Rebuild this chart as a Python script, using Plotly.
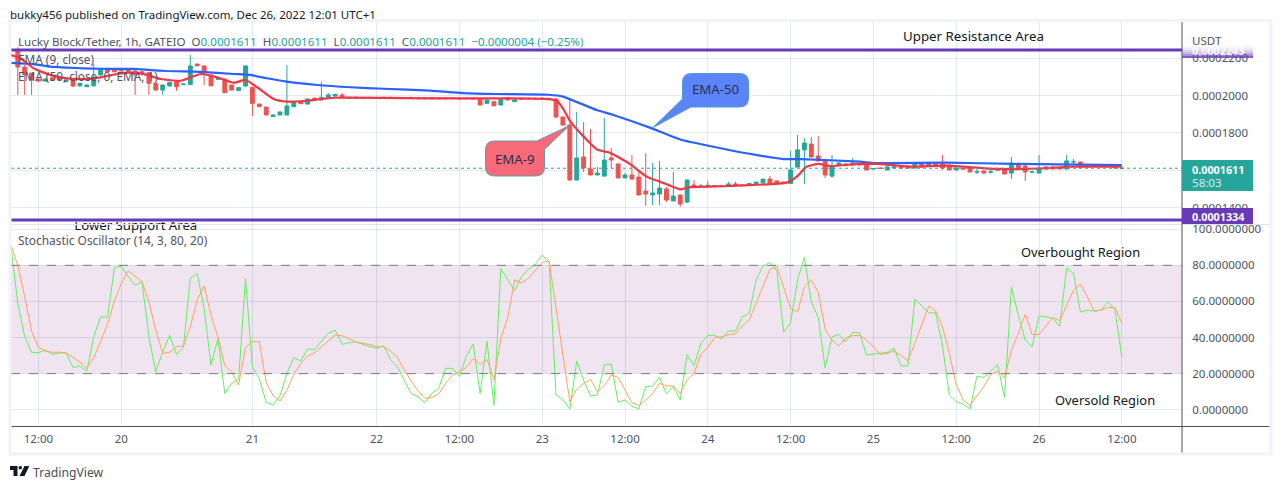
import numpy as np
import plotly.graph_objects as go
from plotly.subplots import make_subplots

# prices below are in units of 0.0000001 USDT
UNIT = 1e-7

bars = list(range(0, 161))

opens = [
    2243, 2152, 2120, 2087, 2077, 2095, 2092, 2074, 2083, 2051,
    2047, 2052, 2110, 2140, 2140, 2140, 2136, 2131, 2127, 2122,
    2065, 2029, 2051, 2074, 2058, 2058, 2168, 2158, 2110, 2087,
    2087, 2056, 2026, 2051, 2044, 1954, 1938, 1887, 1896, 1896,
    1940, 1967, 1954, 1985, 1976, 1988, 1997, 2003, 1990, 1987,
    1989, 1987, 1989, 1988, 1990, 1988, 1989, 1989, 1983, 1983,
    1988, 1987, 1987, 1987, 1985, 1985, 1985, 1981, 1958, 1967,
    1949, 1988, 1967, 1984, 1983, 1985, 1984, 1985, 1981, 1885,
    1842, 1548, 1671, 1607, 1575, 1569, 1666, 1634, 1559, 1575,
    1564, 1489, 1468, 1473, 1500, 1436, 1468, 1430, 1521, 1513,
    1516, 1515, 1516, 1516, 1527, 1521, 1521, 1527, 1532, 1553,
    1543, 1537, 1529, 1617, 1709, 1740, 1676, 1655, 1569, 1628,
    1634, 1628, 1636, 1634, 1607, 1612, 1602, 1612, 1618, 1618,
    1612, 1634, 1623, 1634, 1634, 1628, 1602, 1609, 1612, 1590,
    1596, 1590, 1603, 1602, 1585, 1634, 1623, 1590, 1585, 1618,
    1618, 1614, 1607, 1644, 1644, 1628, 1624, 1624, 1621, 1628, 1610,
]
closes = [
    2152, 2110, 2083, 2077, 2087, 2081, 2083, 2083, 2051, 2065,
    2056, 2088, 2140, 2127, 2127, 2131, 2127, 2110, 2119, 2065,
    2029, 2056, 2070, 2047, 2061, 2158, 2159, 2122, 2052, 2090,
    2015, 2029, 2042, 2158, 1958, 1940, 1896, 1896, 1912, 1944,
    1967, 1956, 1981, 1980, 1990, 2003, 2006, 1988, 1987, 1990,
    1987, 1989, 1987, 1990, 1988, 1989, 1987, 1986, 1987, 1987,
    1983, 1983, 1983, 1984, 1982, 1983, 1982, 1949, 1976, 1945,
    1979, 1976, 1976, 1982, 1985, 1983, 1985, 1983, 1885, 1842,
    1548, 1666, 1612, 1575, 1585, 1655, 1655, 1559, 1575, 1553,
    1468, 1473, 1479, 1505, 1441, 1462, 1420, 1548, 1511, 1516,
    1519, 1517, 1514, 1527, 1521, 1519, 1529, 1537, 1553, 1532,
    1532, 1532, 1602, 1709, 1746, 1671, 1650, 1575, 1618, 1639,
    1628, 1639, 1628, 1602, 1609, 1610, 1618, 1618, 1612, 1612,
    1634, 1618, 1634, 1623, 1612, 1602, 1612, 1607, 1591, 1592,
    1585, 1592, 1601, 1580, 1639, 1607, 1591, 1592, 1612, 1607,
    1607, 1607, 1650, 1646, 1618, 1618, 1621, 1621, 1624, 1612, 1611,
]
highs = [
    2259, 2163, 2120, 2090, 2093, 2098, 2094, 2086, 2086, 2068,
    2058, 2168, 2145, 2142, 2143, 2142, 2138, 2134, 2129, 2125,
    2067, 2058, 2073, 2076, 2063, 2217, 2170, 2160, 2112, 2093,
    2090, 2058, 2045, 2160, 2046, 1956, 1940, 1898, 1914, 2163,
    1969, 1969, 1984, 1990, 2072, 2013, 2009, 2013, 1992, 1993,
    1992, 1994, 1991, 1992, 1992, 1992, 1991, 1994, 1989, 1989,
    1990, 1989, 1989, 1989, 1987, 1987, 1987, 1984, 1979, 1969,
    1984, 1992, 1979, 1992, 1988, 1987, 1988, 1987, 1985, 1887,
    1981, 1912, 1858, 1821, 1618, 1880, 1719, 1636, 1585, 1682,
    1602, 1692, 1639, 1650, 1511, 1591, 1470, 1550, 1548, 1527,
    1543, 1520, 1518, 1537, 1540, 1523, 1531, 1539, 1555, 1569,
    1545, 1539, 1703, 1789, 1773, 1778, 1783, 1657, 1682, 1644,
    1637, 1666, 1639, 1637, 1611, 1614, 1620, 1620, 1620, 1620,
    1641, 1636, 1636, 1636, 1682, 1630, 1614, 1611, 1614, 1607,
    1598, 1601, 1605, 1604, 1671, 1641, 1639, 1594, 1682, 1620,
    1620, 1616, 1682, 1660, 1646, 1634, 1626, 1626, 1634, 1634, 1611,
]
lows = [
    2003, 2003, 2003, 2074, 2072, 2079, 2080, 2072, 2045, 2048,
    2045, 2045, 2105, 2125, 2124, 2129, 2125, 2003, 2116, 2003,
    2027, 2003, 2048, 2025, 2056, 2056, 2157, 2056, 2050, 2085,
    2013, 2027, 2024, 2048, 1890, 1938, 1894, 1885, 1894, 1894,
    1938, 1954, 1952, 1978, 1974, 1986, 1995, 1986, 1985, 1985,
    1985, 1985, 1985, 1986, 1986, 1986, 1985, 1984, 1981, 1981,
    1981, 1981, 1981, 1982, 1980, 1981, 1980, 1947, 1955, 1943,
    1947, 1974, 1965, 1979, 1981, 1981, 1982, 1981, 1880, 1840,
    1546, 1546, 1591, 1573, 1573, 1567, 1612, 1557, 1557, 1551,
    1466, 1409, 1414, 1414, 1430, 1434, 1404, 1425, 1509, 1511,
    1514, 1513, 1512, 1514, 1519, 1517, 1519, 1525, 1530, 1530,
    1530, 1530, 1527, 1615, 1527, 1669, 1648, 1559, 1559, 1626,
    1626, 1626, 1626, 1600, 1605, 1608, 1600, 1610, 1610, 1610,
    1610, 1616, 1621, 1621, 1602, 1600, 1600, 1605, 1589, 1580,
    1583, 1582, 1599, 1578, 1553, 1605, 1543, 1588, 1583, 1605,
    1605, 1605, 1605, 1634, 1616, 1616, 1619, 1619, 1619, 1610, 1610,
]

ema50_x = [-1, 2.3, 4.7, 7.1, 9.6, 12, 16.8, 19.2, 21.6, 26.5, 31.3, 33.7, 36.1, 39, 43.4, 48.2, 53, 59.8,
           64.6, 69.4, 76.9, 79, 83.9, 86.3, 91.6, 96, 100.8, 105.6, 111, 113.4, 122, 124.2, 134.6, 144.3, 160]
ema50_y = [2175, 2168, 2154, 2149, 2145, 2143, 2142, 2136, 2131, 2126, 2115, 2110, 2092, 2074, 2056, 2044, 2036, 2026,
           2013, 2008, 2004, 1994, 1922, 1896, 1828, 1765, 1726, 1691, 1660, 1660, 1646, 1639, 1641, 1634, 1628]

ema9_x = [-1, 0.4, 2.3, 4.7, 7.1, 9.6, 12, 14.4, 16.8, 18.7, 20.7, 23.6, 26.5, 28.9, 31.3, 33, 34.7, 37.1, 39, 41.9,
          45.8, 59.8, 76.9, 78.1, 79, 80.1, 82, 83.9, 85.8, 88.7, 91.1, 93.1, 96, 97.2, 103.2, 111.4, 112.9, 114.3,
          116, 117.7, 122, 124.5, 129.8, 134.6, 141.9, 149.1, 152.1, 160]
ema9_y = [2216, 2199, 2145, 2110, 2092, 2088, 2097, 2115, 2122, 2110, 2088, 2079, 2115, 2097, 2068, 2083, 2044, 1981, 1967, 1972,
          1988, 1985, 1981, 1972, 1931, 1860, 1780, 1712, 1694, 1634, 1566, 1539, 1498, 1509, 1516, 1534, 1566, 1619,
          1634, 1623, 1634, 1634, 1619, 1625, 1607, 1611, 1619, 1619]

stoch_x = list(range(-1, 161))
stoch_k = [
    90.3,
    58.9, 40.4, 31.8, 31.6, 33.0, 30.6, 31.4, 31.6, 23.4, 24.2,
    21.4, 40.4, 51.3, 51.3, 78.6, 79.6, 73.7, 69.0, 70.9, 40.4,
    21.0, 32.1, 41.2, 30.6, 34.3, 72.7, 75.5, 56.1, 24.7, 39.5,
    9.0, 14.6, 16.8, 72.7, 23.8, 17.0, 4.1, 2.6, 7.8, 20.1,
    28.8, 27.0, 33.6, 33.4, 37.7, 42.3, 44.1, 36.2, 37.1, 37.7,
    36.2, 34.9, 34.0, 35.4, 27.9, 23.8, 16.4, 9.0, 7.2, 3.9,
    9.0, 11.8, 22.9, 22.9, 18.3, 29.7, 36.4, 9.0, 38.0, 2.4,
    78.3, 71.8, 65.9, 73.7, 77.9, 80.5, 85.7, 81.6, 8.1, 5.4,
    0.4, 27.0, 16.4, 7.6, 8.1, 24.7, 25.3, 4.1, 5.4, 2.0,
    0.4, 12.7, 13.1, 18.1, 8.7, 12.7, 5.4, 30.6, 24.4, 36.7,
    41.2, 41.2, 39.1, 43.6, 43.6, 51.5, 53.4, 71.8, 79.6, 81.6,
    77.0, 42.8, 48.4, 71.8, 84.4, 59.8, 51.1, 23.3, 40.4, 41.7,
    37.7, 42.8, 42.6, 30.3, 30.8, 31.6, 31.8, 34.0, 24.2, 24.2,
    61.3, 57.6, 53.7, 53.7, 35.8, 8.1, 4.4, 3.1, 0.4, 18.6,
    17.9, 21.4, 24.9, 6.8, 68.1, 52.4, 38.6, 34.9, 51.9, 51.5,
    50.6, 46.3, 78.6, 75.5, 54.1, 55.2, 54.6, 55.2, 59.8, 55.2, 29.4,
]
stoch_d = [
    91.2,
    80.1, 62.6, 43.6, 34.5, 32.5, 31.8, 31.9, 31.4, 29.0, 26.4,
    22.9, 28.8, 37.7, 47.4, 60.2, 70.0, 77.0, 73.7, 70.9, 59.8,
    44.1, 31.2, 31.8, 34.9, 35.3, 46.0, 60.7, 68.5, 52.4, 40.4,
    24.4, 21.0, 13.7, 34.5, 37.7, 37.7, 15.0, 7.8, 4.8, 10.9,
    19.6, 25.7, 29.7, 31.6, 34.9, 38.0, 41.4, 41.0, 39.3, 37.5,
    36.7, 36.2, 34.9, 34.9, 32.5, 29.0, 22.3, 15.9, 10.5, 6.3,
    6.8, 8.7, 14.6, 19.2, 21.0, 23.4, 28.1, 25.1, 27.9, 16.4,
    39.5, 51.0, 71.8, 70.3, 72.7, 77.3, 81.6, 82.3, 57.0, 30.3,
    4.4, 11.3, 14.6, 16.8, 10.0, 13.3, 19.2, 17.9, 11.3, 3.9,
    2.4, 5.4, 9.0, 14.6, 13.3, 13.1, 9.0, 16.4, 20.1, 30.8,
    34.5, 40.1, 40.4, 41.5, 42.1, 46.5, 49.7, 58.9, 69.0, 77.7,
    79.2, 67.2, 56.1, 54.3, 68.1, 71.8, 65.0, 44.7, 38.6, 35.3,
    39.9, 41.0, 41.2, 38.6, 34.9, 30.6, 31.2, 32.7, 29.7, 27.1,
    36.7, 46.9, 57.4, 54.8, 46.0, 31.2, 14.0, 5.4, 2.4, 7.6,
    12.7, 19.6, 21.4, 17.7, 33.0, 42.3, 52.8, 41.7, 41.7, 46.3,
    51.1, 49.3, 58.0, 66.3, 69.6, 62.6, 54.6, 55.2, 56.7, 56.7, 47.8,
]

date_ticks = [3, 15, 34, 52, 64, 76, 88, 100, 112, 124, 136, 148, 160]
date_labels = ['12:00', '20', '21', '22', '12:00', '23', '12:00', '24', '12:00', '25', '12:00', '26', '12:00']
price_ticks = [0.00014, 0.00016, 0.00018, 0.0002, 0.00022]
# the 0.00016 label sits behind the last price tag in the original, so it stays empty
price_labels = ['0.0001400', '', '0.0001800', '0.0002000', '0.0002200']
stoch_ticks = [0, 20, 40, 60, 80, 100]

upper_level = 0.0002243
lower_level = 0.0001334
last_price = 0.0001611

W, H = 1280, 489
FONT = 'Noto Sans'
GREY = '#50535e'
UP = '#26a69a'
DOWN = '#ef5350'
PURPLE = '#673ab7'
GRID = 'rgba(42,90,150,0.13)'
FRAME = '#f0f3fa'
LEFT, RIGHT = 11, 1182
P1_TOP, SPLIT, P2_BOT = 21, 222, 426.5


def px(x):
    return x / W


def py(y):
    return 1 - y / H


def callout(x0, y0, x1, y1, a, b, tip, r=9):
    # rounded box with a tail; a and b are the two tail roots on the box edge
    pts = [
        f'M {px(x0 + r)} {py(y0)}',
    ]
    if a[1] == y0:  # tail leaves through top/right corner (EMA-9)
        pts += [f'L {px(a[0])} {py(a[1])}', f'L {px(tip[0])} {py(tip[1])}', f'L {px(b[0])} {py(b[1])}']
    else:
        pts += [f'L {px(x1 - r)} {py(y0)}']
    if a[1] == y0:
        pts += [f'L {px(x1)} {py(y1 - r)}']
    else:
        pts += [f'Q {px(x1)} {py(y0)} {px(x1)} {py(y0 + r)}', f'L {px(x1)} {py(y1 - r)}']
    pts += [f'Q {px(x1)} {py(y1)} {px(x1 - r)} {py(y1)}']
    if a[1] != y0:  # tail leaves through bottom/left corner (EMA-50)
        pts += [f'L {px(b[0])} {py(b[1])}', f'L {px(tip[0])} {py(tip[1])}', f'L {px(a[0])} {py(a[1])}']
    else:
        pts += [f'L {px(x0 + r)} {py(y1)}', f'Q {px(x0)} {py(y1)} {px(x0)} {py(y1 - r)}']
    pts += [f'L {px(x0)} {py(y0 + r)}', f'Q {px(x0)} {py(y0)} {px(x0 + r)} {py(y0)}', 'Z']
    return ' '.join(pts)


fig = make_subplots(rows=2, cols=1, shared_xaxes=True)

fig.add_trace(go.Candlestick(
    x=bars,
    open=np.array(opens) * UNIT, high=np.array(highs) * UNIT,
    low=np.array(lows) * UNIT, close=np.array(closes) * UNIT,
    increasing=dict(line=dict(color=UP, width=1), fillcolor=UP),
    decreasing=dict(line=dict(color=DOWN, width=1), fillcolor=DOWN),
    whiskerwidth=0,
), row=1, col=1)
fig.add_trace(go.Scatter(x=ema50_x, y=np.array(ema50_y) * UNIT, mode='lines',
                         line=dict(color='#2962ff', width=2.2, shape='spline', smoothing=0.5)), row=1, col=1)
fig.add_trace(go.Scatter(x=ema9_x, y=np.array(ema9_y) * UNIT, mode='lines',
                         line=dict(color='#f23645', width=2.2, shape='spline', smoothing=0.5)), row=1, col=1)
fig.add_trace(go.Scatter(x=stoch_x, y=stoch_k, mode='lines', line=dict(color='#5ff25f', width=1)), row=2, col=1)
fig.add_trace(go.Scatter(x=stoch_x, y=stoch_d, mode='lines', line=dict(color='#ffa35c', width=1)), row=2, col=1)
# this label is cut by the top of the lower pane, so it goes in as a clipped trace
fig.add_trace(go.Scatter(x=[17.1], y=[101.6], mode='text', text=['Lower Support Area'],
                         textfont=dict(family=FONT, size=13.2, color='#131722')), row=2, col=1)

shapes = [
    dict(type='rect', xref='x2 domain', yref='y2', x0=0, x1=1, y0=20, y1=80,
         fillcolor='#efe4f0', line_width=0, layer='below'),
    dict(type='line', xref='x2 domain', yref='y2', x0=0, x1=1, y0=80, y1=80,
         line=dict(color='#787b86', width=1, dash='dash')),
    dict(type='line', xref='x2 domain', yref='y2', x0=0, x1=1, y0=20, y1=20,
         line=dict(color='#787b86', width=1, dash='dash')),
    dict(type='line', xref='x domain', yref='y', x0=0, x1=1, y0=last_price, y1=last_price,
         line=dict(color=UP, width=1, dash='dot')),
    dict(type='line', xref='x domain', yref='y', x0=0, x1=1, y0=upper_level, y1=upper_level,
         line=dict(color=PURPLE, width=3)),
    dict(type='line', xref='x domain', yref='y', x0=0, x1=1, y0=lower_level, y1=lower_level,
         line=dict(color=PURPLE, width=3)),
    # pane separator, axis lines and outer frame
    dict(type='line', xref='paper', yref='paper', x0=px(LEFT), x1=px(1270), y0=py(224.5), y1=py(224.5),
         line=dict(color='#e0e3eb', width=1)),
    dict(type='line', xref='paper', yref='paper', x0=px(LEFT), x1=px(1270), y0=py(P2_BOT), y1=py(P2_BOT),
         line=dict(color=GREY, width=1)),
    dict(type='line', xref='paper', yref='paper', x0=px(RIGHT), x1=px(RIGHT), y0=py(P1_TOP), y1=py(453),
         line=dict(color=GREY, width=1)),
    dict(type='rect', xref='paper', yref='paper', x0=px(10), x1=px(1271), y0=py(20.5), y1=py(454),
         line=dict(color=FRAME, width=3)),
    # last price and level tags
    dict(type='rect', xref='paper', yref='paper', x0=px(RIGHT), x1=px(1253), y0=py(160), y1=py(191),
         fillcolor=UP, line_width=0),
    dict(type='rect', xref='paper', yref='paper', x0=px(RIGHT), x1=px(1253), y0=py(208), y1=py(224),
         fillcolor=PURPLE, line_width=0),
    # callouts
    dict(type='path', xref='paper', yref='paper',
         path=callout(682.5, 73.5, 748.5, 107, (682.5, 99), (691, 107), (652.7, 127.7)),
         fillcolor='#5b84fb', line=dict(color='#4aa0c4', width=1)),
    dict(type='path', xref='paper', yref='paper',
         path=callout(485.5, 141, 544.5, 176, (536.7, 141), (544.5, 149.3), (569.3, 125.7)),
         fillcolor='#f66a79', line=dict(color='#5f9eaa', width=1)),
    # trademark mark in the footer
    dict(type='path', xref='paper', yref='paper', fillcolor='#131722', line_width=0,
         path=f'M {px(10)} {py(466)} L {px(17.5)} {py(466)} L {px(17.5)} {py(476)} L {px(13.5)} {py(476)} '
              f'L {px(13.5)} {py(470)} L {px(10)} {py(470)} Z'),
    dict(type='circle', xref='paper', yref='paper', fillcolor='#131722', line_width=0,
         x0=px(18.5), x1=px(22), y0=py(466), y1=py(469.5)),
    dict(type='path', xref='paper', yref='paper', fillcolor='#131722', line_width=0,
         path=f'M {px(24.5)} {py(466)} L {px(29.3)} {py(466)} L {px(24.5)} {py(476)} L {px(19.5)} {py(476)} Z'),
]
# upper tag fades out towards its top edge
for i, alpha in enumerate([0.05, 0.12, 0.22, 0.35, 0.55, 0.8]):
    shapes.append(dict(type='rect', xref='paper', yref='paper', x0=px(RIGHT), x1=px(1253),
                       y0=py(46 + i * 2), y1=py(48 + i * 2),
                       fillcolor=f'rgba(103,58,183,{alpha})', line_width=0))


def label(text, x, y, size=11.6, color=GREY, anchor='left'):
    return dict(text=text, x=px(x - 2 if anchor == 'left' else x), y=py(y), xref='paper', yref='paper',
                showarrow=False, xanchor=anchor, yanchor='middle', font=dict(family=FONT, size=size, color=color))


v = f'<span style="color:{UP}">'
annotations = [
    label('bukky456 published on TradingView.com, Dec 26, 2022 12:01 UTC+1', 10, 14.5, size=11.5, color='#131722'),
    label(f'Lucky Block/Tether, 1h, GATEIO  O{v}0.0001611</span>  H{v}0.0001611</span>  L{v}0.0001611</span>  '
          f'C{v}0.0001611  −0.0000004 (−0.25%)</span>', 18, 41.5),
    label('EMA (9, close)', 18, 59, size=11.8),
    label('EMA (50, close, 0, EMA, 1)', 18, 75.5, size=11.8),
    label('Stochastic Oscillator (14, 3, 80, 20)', 18, 239.5, size=11.9),
    label('Upper Resistance Area', 973, 36, size=13.3, color='#131722', anchor='center'),
    label('Overbought Region', 1080, 252, size=12.9, color='#131722', anchor='center'),
    label('Oversold Region', 1105, 400, size=12.9, color='#131722', anchor='center'),
    label('EMA-50', 715.5, 89, size=13.2, color='#2a3050', anchor='center'),
    label('EMA-9', 515, 158.5, size=13.2, color='#2a3050', anchor='center'),
    label('USDT', 1192, 40),
    label('<b>0.0002243</b>', 1192, 50, size=10.8, color='rgba(255,255,255,0.9)'),
    label('<b>0.0001611</b>', 1192, 169.5, size=10.8, color='white'),
    label('58:03', 1192, 182.5, color='rgba(255,255,255,0.8)'),
    label('<b>0.0001334</b>', 1192, 216, size=10.8, color='white'),
    label('TradingView', 33, 472, size=12.2, color='#4a4e5a'),
]

fig.update_layout(
    width=W, height=H, showlegend=False,
    margin=dict(l=0, r=0, t=0, b=0),
    paper_bgcolor='white', plot_bgcolor='white',
    font=dict(family=FONT, size=11.5, color=GREY),
    boxgap=0.2,
    shapes=shapes, annotations=annotations,
    xaxis=dict(domain=[px(LEFT), px(RIGHT)], range=[-0.986, 168.72], rangeslider_visible=False,
               tickvals=date_ticks, showticklabels=False, ticks='', gridcolor=GRID, showline=False, zeroline=False),
    xaxis2=dict(domain=[px(LEFT), px(RIGHT)], range=[-0.986, 168.72], matches='x',
                tickmode='array', tickvals=date_ticks, ticktext=date_labels, showticklabels=True,
                ticks='outside', ticklen=2, tickcolor='rgba(0,0,0,0)', gridcolor=GRID, showline=False, zeroline=False),
    yaxis=dict(domain=[py(SPLIT), py(P1_TOP)], range=[0.00013234, 0.00023984], side='right',
               tickmode='array', tickvals=price_ticks, ticktext=price_labels, ticks='outside', ticklen=7,
               tickcolor='rgba(0,0,0,0)', gridcolor=GRID, showline=False, zeroline=False),
    yaxis2=dict(domain=[py(P2_BOT), py(SPLIT)], range=[-9.3, 104], side='right',
                tickvals=stoch_ticks, tickformat='.7f', ticks='outside', ticklen=7, tickcolor='rgba(0,0,0,0)',
                gridcolor=GRID, showline=False, zeroline=False),
)

fig.write_html("out.html", config=dict(displayModeBar=False),
               post_script="document.body.style.margin='0';document.body.style.overflow='hidden';")
